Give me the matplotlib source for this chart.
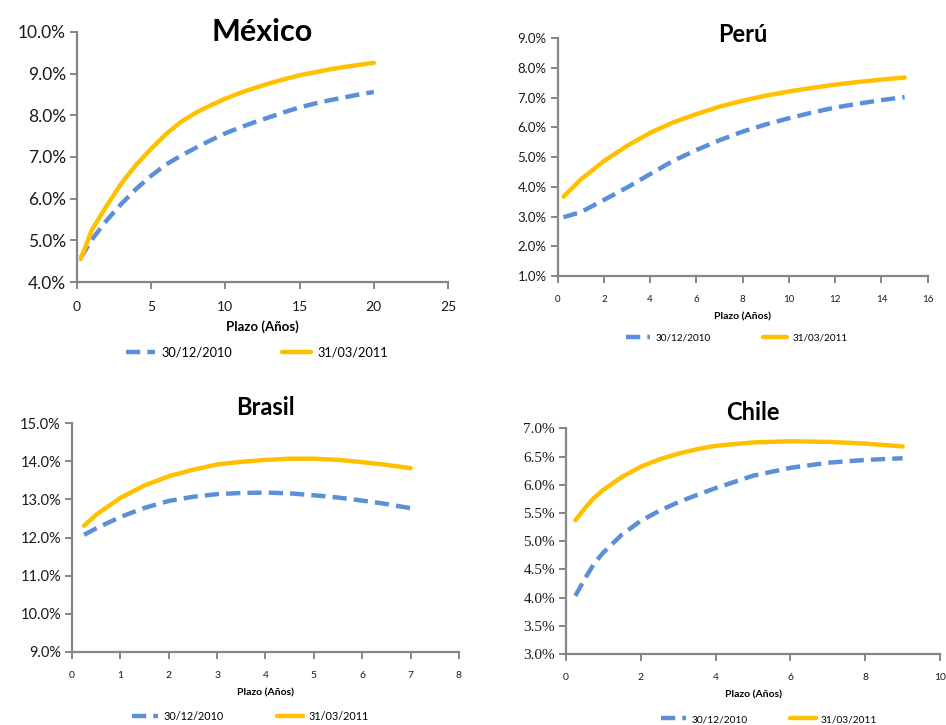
import matplotlib
matplotlib.use("Agg")
import matplotlib.pyplot as plt
from matplotlib.ticker import FuncFormatter, MultipleLocator
from matplotlib.font_manager import FontProperties

# Yield curves (% per year) by maturity (years)
mex_plazo = [0.25, 1, 2, 3, 4, 5, 6, 7, 8, 9, 10, 11, 12, 13, 14, 15, 16, 17, 18, 19, 20]
mex_dic10 = [4.58, 5.02, 5.48, 5.88, 6.24, 6.55, 6.82, 7.03, 7.22, 7.40, 7.57,
             7.71, 7.84, 7.96, 8.08, 8.19, 8.28, 8.36, 8.43, 8.50, 8.56]
mex_mar11 = [4.55, 5.25, 5.83, 6.37, 6.82, 7.20, 7.55, 7.84, 8.06, 8.24, 8.40,
             8.54, 8.66, 8.77, 8.87, 8.96, 9.03, 9.10, 9.16, 9.21, 9.26]

per_plazo = [0.25, 1, 2, 3, 4, 5, 6, 7, 8, 9, 10, 11, 12, 13, 14, 15]
per_dic10 = [2.98, 3.15, 3.56, 3.98, 4.43, 4.88, 5.24, 5.57, 5.86, 6.10, 6.31,
             6.50, 6.67, 6.80, 6.92, 7.02]
per_mar11 = [3.67, 4.25, 4.87, 5.38, 5.82, 6.17, 6.45, 6.70, 6.90, 7.07, 7.21,
             7.33, 7.44, 7.53, 7.61, 7.68]

bra_plazo = [0.25, 0.5, 1, 1.5, 2, 2.5, 3, 3.5, 4, 4.5, 5, 5.5, 6, 6.5, 7]
bra_dic10 = [12.07, 12.24, 12.54, 12.78, 12.96, 13.07, 13.14, 13.17, 13.18,
             13.16, 13.11, 13.05, 12.97, 12.88, 12.77]
bra_mar11 = [12.31, 12.60, 13.04, 13.37, 13.61, 13.78, 13.92, 13.99, 14.04,
             14.07, 14.07, 14.04, 13.98, 13.91, 13.82]

chi_plazo = [0.25, 0.5, 0.75, 1, 1.5, 2, 2.5, 3, 3.5, 4, 5, 6, 7, 8, 9]
chi_dic10 = [4.03, 4.33, 4.60, 4.80, 5.12, 5.36, 5.54, 5.69, 5.82, 5.94, 6.16,
             6.30, 6.39, 6.44, 6.47]
chi_mar11 = [5.37, 5.58, 5.77, 5.91, 6.14, 6.32, 6.45, 6.55, 6.63, 6.69, 6.75,
             6.77, 6.76, 6.73, 6.68]

serie_labels = ["30/12/2010", "31/03/2011"]

BLUE = "#5B8FD8"
GOLD = "#FFC000"
GRAY = "#868686"
SANS = ["Lato", "DejaVu Sans"]
SERIF = "Liberation Serif"

fig = plt.figure(figsize=(9.46, 7.25), dpi=100)
fig.patch.set_facecolor("white")


def panel(rect, title, x, d1, d2, xmax, xstep, ylim, ystep,
          title_size, ytick_size, xtick_size, xlabel_size,
          xlabel_pad, legend_size, legend_xy, handlelen, colspace, title_y):
    ax = fig.add_axes(rect)
    ax.plot(x, d1, color=BLUE, lw=3.2, dashes=(3.2, 1.6),
            solid_capstyle="butt", label=serie_labels[0])
    ax.plot(x, d2, color=GOLD, lw=3.2, solid_capstyle="round",
            label=serie_labels[1])
    ax.set_xlim(0, xmax)
    ax.set_ylim(*ylim)
    ax.xaxis.set_major_locator(MultipleLocator(xstep))
    ax.yaxis.set_major_locator(MultipleLocator(ystep))
    ax.yaxis.set_major_formatter(FuncFormatter(lambda v, p: f"{v:.1f}%"))
    for s in ("top", "right"):
        ax.spines[s].set_visible(False)
    for s in ("left", "bottom"):
        ax.spines[s].set_color(GRAY)
        ax.spines[s].set_linewidth(1.6)
    ax.tick_params(axis="both", direction="out", length=5, width=1.4,
                   color=GRAY, labelcolor="#1a1a1a")
    ax.tick_params(axis="y", labelsize=ytick_size, pad=3,
                   labelfontfamily=SANS)
    ax.tick_params(axis="x", labelsize=xtick_size, pad=9,
                   labelfontfamily=SANS)
    ax.set_xlabel("Plazo (Años)", fontsize=xlabel_size, fontweight="bold",
                  family=SANS, labelpad=xlabel_pad)
    ax.set_title(title, fontsize=title_size, fontweight="bold", family=SANS,
                 y=title_y)
    ax.legend(loc="center", bbox_to_anchor=legend_xy, ncol=2,
              frameon=False, prop={"family": SANS, "size": legend_size},
              handlelength=handlelen, handletextpad=0.5,
              columnspacing=colspace)
    return ax


panel([0.0814, 0.611, 0.3922, 0.3449], "México", mex_plazo, mex_dic10,
      mex_mar11, 25, 5, (4, 10), 1, 22, 12.5, 10, 9.5, 5,
      9.2, (0.485, -0.28), 2.3, 3.9, 0.93)
panel([0.5895, 0.6193, 0.3912, 0.3279], "Perú", per_plazo, per_dic10,
      per_mar11, 16, 2, (1, 9), 1, 17, 9.5, 7, 7.5, 6,
      7.2, (0.484, -0.26), 2.4, 5.3, 0.95)
panel([0.0761, 0.1011, 0.4091, 0.3150], "Brasil", bra_plazo, bra_dic10,
      bra_mar11, 8, 1, (9, 15), 1, 17, 10.5, 7.5, 7.5, 6,
      7.8, (0.461, -0.285), 2.4, 5.0, 1.0)
ax_chi = panel([0.5983, 0.0979, 0.3954, 0.3113], "Chile", chi_plazo,
               chi_dic10, chi_mar11, 10, 2, (3, 7), 0.5, 17, 10.5, 7.5,
               7.5, 6, 7.3, (0.543, -0.29), 2.5, 4.2, 1.0)

# Chile's percentage axis uses a serif face
fig.canvas.draw()
for lbl in ax_chi.get_yticklabels():
    lbl.set_fontproperties(FontProperties(family=SERIF, size=11))

fig.savefig("out.png", dpi=100, facecolor="white")
